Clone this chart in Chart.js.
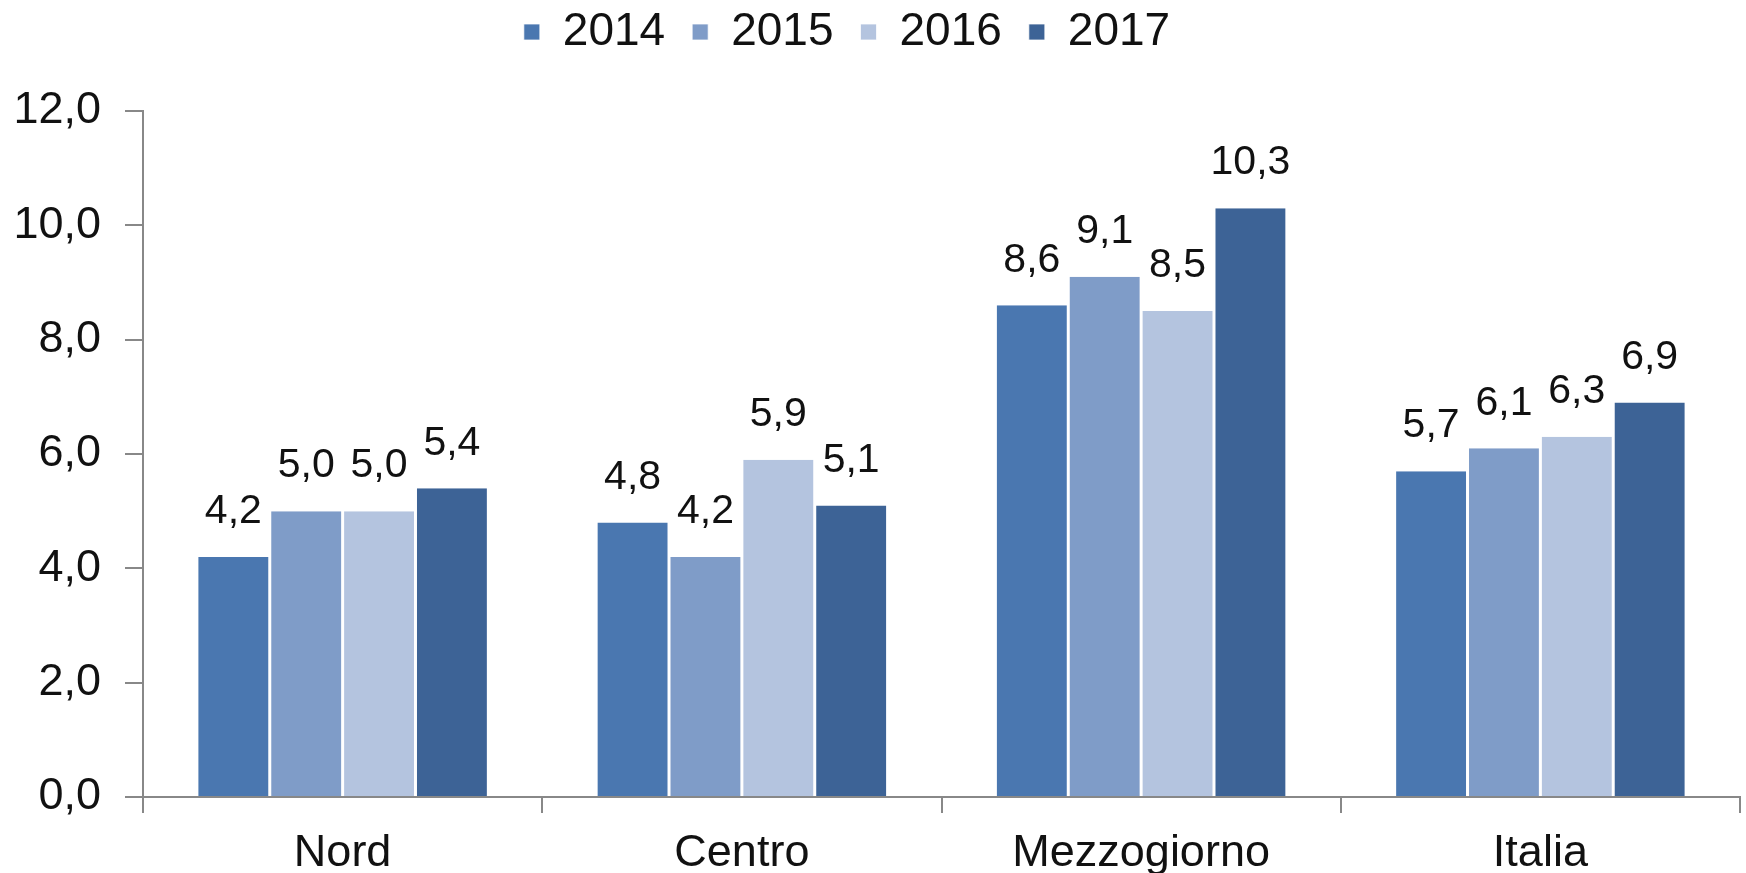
<!DOCTYPE html>
<html><head><meta charset="utf-8">
<script src="https://cdn.jsdelivr.net/npm/chart.js@4/dist/chart.umd.min.js"></script>
<style>html,body{margin:0;padding:0;background:#fff;}#wrap{width:1746px;height:873px;}</style>
</head><body><div id="wrap"><canvas id="c" width="1746" height="873"></canvas></div>
<script>
const categories = ['Nord', 'Centro', 'Mezzogiorno', 'Italia'];
const seriesNames = ['2014', '2015', '2016', '2017'];
const v2014 = [4.2, 4.8, 8.6, 5.7];
const v2015 = [5.0, 4.2, 9.1, 6.1];
const v2016 = [5.0, 5.9, 8.5, 6.3];
const v2017 = [5.4, 5.1, 10.3, 6.9];
const yTicks = [0, 2, 4, 6, 8, 10, 12];
const colors = ['#4a77b0', '#7f9cc8', '#b4c4df', '#3d6396'];

const fmt = v => v.toFixed(1).replace('.', ',');
const FONT = '"Liberation Sans", Arial, sans-serif';

const labelPlugin = {
  id: 'barLabels',
  afterLayout(chart) {
    const lg = chart.legend;
    if (!lg) return;
    const dx = -23;
    lg.left += dx; lg.right += dx;
    const dy = -18 - lg.top;
    lg.top += dy; lg.bottom += dy;
  },
  afterDatasetsDraw(chart) {
    const ctx = chart.ctx;
    ctx.save();
    ctx.font = '41px ' + FONT;
    ctx.fillStyle = '#111';
    ctx.textAlign = 'center';
    ctx.textBaseline = 'middle';
    chart.data.datasets.forEach((ds, di) => {
      chart.getDatasetMeta(di).data.forEach((bar, i) => {
        ctx.fillText(fmt(ds.data[i]), bar.x, bar.y - 45);
      });
    });
    ctx.restore();
  }
};

const datasets = [v2014, v2015, v2016, v2017].map((d, i) => ({
  label: seriesNames[i],
  data: d,
  backgroundColor: colors[i],
  borderColor: '#ffffff',
  borderWidth: {left: 1.5, right: 1.5, top: 0, bottom: 0},
  borderSkipped: 'bottom',
  categoryPercentage: 0.73,
  barPercentage: 1.0
}));

new Chart(document.getElementById('c'), {
  type: 'bar',
  data: { labels: categories, datasets },
  options: {
    responsive: false,
    animation: false,
    devicePixelRatio: 1,
    layout: { padding: { top: 28, right: 6, left: 0, bottom: 0 } },
    plugins: {
      legend: {
        position: 'top',
        labels: {
          font: { family: FONT, size: 46 },
          color: '#111',
          boxWidth: 16, boxHeight: 16,
          padding: 27
        }
      },
      tooltip: { enabled: false }
    },
    scales: {
      x: {
        grid: { display: true, drawOnChartArea: false, color: '#888', tickLength: 16, lineWidth: 2, offset: true },
        border: { color: '#888', width: 2 },
        ticks: { font: { family: FONT, size: 45 }, color: '#111', padding: 14 },
        afterFit(s) { s.height = 76; }
      },
      y: {
        min: 0, max: 12,
        afterBuildTicks(s) { s.ticks = yTicks.map(v => ({ value: v })); },
        grid: { display: true, drawOnChartArea: false, color: '#888', tickLength: 18, lineWidth: 2 },
        border: { color: '#888', width: 2 },
        ticks: { font: { family: FONT, size: 45 }, color: '#111', padding: 24, callback: v => fmt(v) },
        afterFit(s) { s.width = 143; }
      }
    }
  },
  plugins: [labelPlugin]
});
</script></body></html>
